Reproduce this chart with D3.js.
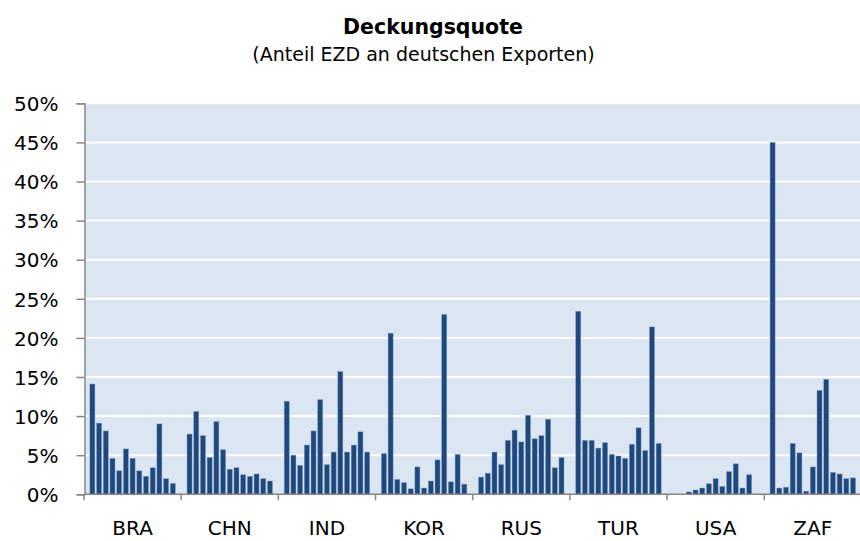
<!DOCTYPE html>
<html><head><meta charset="utf-8">
<script src="https://cdn.jsdelivr.net/npm/d3@7"></script>
<style>
html,body{margin:0;padding:0;background:#fff;overflow:hidden}
text{font-family:"DejaVu Sans",sans-serif;fill:#000}
</style></head>
<body><svg id="c" width="860" height="541"></svg>
<script>
const countries = ["BRA","CHN","IND","KOR","RUS","TUR","USA","ZAF"];
const BRA = [14.1, 9.1, 8.1, 4.6, 3.0, 5.8, 4.6, 3.0, 2.3, 3.4, 9.0, 2.0, 1.4];
const CHN = [7.7, 10.6, 7.5, 4.7, 9.3, 5.7, 3.2, 3.4, 2.5, 2.3, 2.6, 2.0, 1.7];
const IND = [11.9, 5.0, 3.7, 6.3, 8.1, 12.1, 3.8, 5.4, 15.7, 5.4, 6.3, 8.0, 5.4];
const KOR = [5.2, 20.6, 1.9, 1.5, 0.7, 3.5, 0.8, 1.7, 4.4, 23.0, 1.6, 5.1, 1.3];
const RUS = [2.2, 2.7, 5.4, 3.8, 6.9, 8.2, 6.7, 10.1, 7.1, 7.5, 9.6, 3.4, 4.7];
const TUR = [23.4, 6.9, 6.9, 5.9, 6.6, 5.1, 4.9, 4.6, 6.4, 8.5, 5.6, 21.4, 6.5];
const USA = [0, 0, 0.3, 0.55, 0.8, 1.35, 2.0, 1.0, 2.9, 3.9, 0.8, 2.5, 0];
const ZAF = [45.0, 0.8, 0.9, 6.5, 5.3, 0.4, 3.5, 13.3, 14.7, 2.8, 2.6, 2.0, 2.1];
const yTicks = [0, 0.05, 0.10, 0.15, 0.20, 0.25, 0.30, 0.35, 0.40, 0.45, 0.50];
const seriesByCountry = {BRA, CHN, IND, KOR, RUS, TUR, USA, ZAF};
const slots = d3.range(13);

const svg = d3.select("#c");
const plot = {left: 84, right: 861.4, top: 103.3, bottom: 494.3};

const y = d3.scaleLinear().domain([0, 0.5]).range([plot.bottom, plot.top]);
const x0 = d3.scaleBand().domain(countries).range([plot.left, plot.right]).padding(0);
const x1 = d3.scaleBand().domain(slots).range([0, x0.bandwidth()])
  .paddingInner(0.25).paddingOuter(0.875);

// background
svg.append("rect").attr("x", plot.left + 1).attr("y", plot.top)
  .attr("width", plot.right - plot.left).attr("height", plot.bottom - plot.top)
  .attr("fill", "#dce6f2");

// gridlines
svg.append("g").selectAll("line").data(yTicks.filter(d => d > 0)).join("line")
  .attr("x1", plot.left + 1).attr("x2", plot.right)
  .attr("y1", d => y(d)).attr("y2", d => y(d))
  .attr("stroke", "#fff").attr("stroke-width", 2);

// bars
const g = svg.append("g");
countries.forEach(c => {
  g.append("g").attr("transform", `translate(${x0(c)},0)`)
    .selectAll("rect").data(seriesByCountry[c].map((v, i) => ({i, v}))).join("rect")
    .attr("x", d => x1(d.i))
    .attr("width", x1.bandwidth())
    .attr("y", d => y(d.v / 100))
    .attr("height", d => y(0) - y(d.v / 100))
    .attr("fill", "#1f497d")
    .attr("stroke", "#7d9bc4").attr("stroke-width", 0.6).attr("stroke-opacity", 0.7);
});

// y axis
const yAxis = d3.axisLeft(y).tickValues(yTicks).tickFormat(d3.format(".0%"))
  .tickSizeInner(8).tickSizeOuter(8).tickPadding(18);
const ya = svg.append("g").attr("transform", `translate(${plot.left + 0.5},0)`).call(yAxis);
ya.selectAll("path,line").attr("stroke", "#868686").attr("stroke-width", 1.5);
ya.selectAll("text").attr("font-size", 20).attr("font-family", "DejaVu Sans").attr("dy", "0.36em");

// x axis (ticks between groups)
const boundaries = countries.map(c => x0(c)).concat([plot.right]);
const xa = svg.append("g");
xa.append("line").attr("x1", plot.left).attr("x2", plot.right)
  .attr("y1", plot.bottom).attr("y2", plot.bottom)
  .attr("stroke", "#868686").attr("stroke-width", 1.5);
xa.selectAll("line.t").data(boundaries).join("line").attr("class", "t")
  .attr("x1", d => d).attr("x2", d => d)
  .attr("y1", plot.bottom).attr("y2", plot.bottom + 6)
  .attr("stroke", "#868686").attr("stroke-width", 1.5);
xa.selectAll("text").data(countries).join("text")
  .attr("x", c => x0(c) + x0.bandwidth() / 2)
  .attr("y", 535)
  .attr("text-anchor", "middle")
  .attr("font-size", 20)
  .text(c => c);

// titles
svg.append("text").attr("x", 433).attr("y", 34).attr("text-anchor", "middle")
  .attr("font-size", 20.5).attr("font-weight", "bold").text("Deckungsquote");
svg.append("text").attr("x", 423.5).attr("y", 61).attr("text-anchor", "middle")
  .attr("font-size", 19).text("(Anteil EZD an deutschen Exporten)");
</script></body></html>
